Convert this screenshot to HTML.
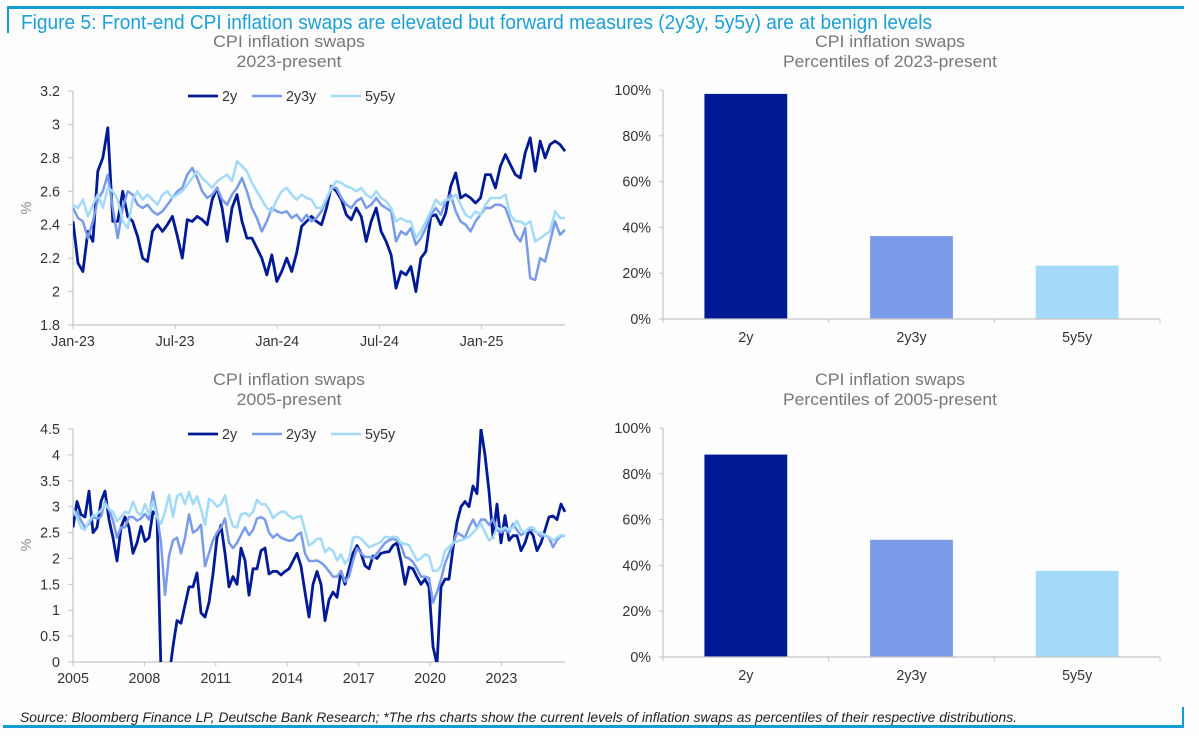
<!DOCTYPE html>
<html lang="en">
<head>
<meta charset="utf-8">
<title>Figure 5: CPI inflation swaps</title>
<style>
  html, body { margin: 0; padding: 0; background: #fff; }
  svg { display: block; font-family: "Liberation Sans", sans-serif; }
</style>
</head>
<body>
<svg id="figure" xmlns="http://www.w3.org/2000/svg" width="1199" height="736" viewBox="0 0 1199 736">
  <rect x="0" y="0" width="1199" height="736" fill="#fefefe"/>
  <rect x="7" y="6" width="1177" height="3" fill="#129cd2"/>
  <rect x="7" y="6" width="2" height="27" fill="#129cd2"/>
  <rect x="3" y="725" width="1181" height="3" fill="#129cd2"/>
  <rect x="1182" y="707" width="2" height="20" fill="#129cd2"/>
  <text x="21" y="29" font-size="20" fill="#1b9fd4" textLength="911" lengthAdjust="spacingAndGlyphs">Figure 5: Front-end CPI inflation swaps are elevated but forward measures (2y3y, 5y5y) are at benign levels</text>

  <text x="289" y="47" font-size="17" fill="#777" text-anchor="middle" textLength="152" lengthAdjust="spacingAndGlyphs">CPI inflation swaps</text>
  <text x="289" y="67" font-size="17" fill="#777" text-anchor="middle" textLength="105" lengthAdjust="spacingAndGlyphs">2023-present</text>
  <text x="890" y="47" font-size="17" fill="#777" text-anchor="middle" textLength="150" lengthAdjust="spacingAndGlyphs">CPI inflation swaps</text>
  <text x="890" y="67" font-size="17" fill="#777" text-anchor="middle" textLength="214" lengthAdjust="spacingAndGlyphs">Percentiles of 2023-present</text>
  <text x="289" y="385" font-size="17" fill="#777" text-anchor="middle" textLength="152" lengthAdjust="spacingAndGlyphs">CPI inflation swaps</text>
  <text x="289" y="405" font-size="17" fill="#777" text-anchor="middle" textLength="105" lengthAdjust="spacingAndGlyphs">2005-present</text>
  <text x="890" y="385" font-size="17" fill="#777" text-anchor="middle" textLength="150" lengthAdjust="spacingAndGlyphs">CPI inflation swaps</text>
  <text x="890" y="405" font-size="17" fill="#777" text-anchor="middle" textLength="214" lengthAdjust="spacingAndGlyphs">Percentiles of 2005-present</text>

  <text x="20" y="722" font-size="14" font-style="italic" fill="#222" textLength="997" lengthAdjust="spacingAndGlyphs">Source: Bloomberg Finance LP, Deutsche Bank Research; *The rhs charts show the current levels of inflation swaps as percentiles of their respective distributions.</text>

  <defs>
    <clipPath id="clip-top"><rect x="73" y="91" width="494" height="234"/></clipPath>
    <clipPath id="clip-bottom"><rect x="73" y="429" width="494" height="233"/></clipPath>
  </defs>
</svg>

<script>
// ---- Line chart data: 2023-present ----
const recentSeries2y = [
  2.42,2.17,2.12,2.36,2.3,2.72,2.8,2.98,2.42,2.42,
  2.6,2.45,2.42,2.33,2.2,2.18,2.36,2.4,2.36,2.4,
  2.45,2.33,2.2,2.43,2.42,2.45,2.43,2.4,2.55,2.62,
  2.5,2.3,2.5,2.58,2.42,2.32,2.32,2.26,2.2,2.1,
  2.22,2.06,2.12,2.2,2.12,2.23,2.39,2.42,2.45,2.42,
  2.4,2.5,2.63,2.6,2.55,2.46,2.43,2.5,2.45,2.3,
  2.42,2.5,2.36,2.3,2.22,2.02,2.12,2.1,2.15,2.0,
  2.2,2.24,2.45,2.46,2.4,2.47,2.63,2.71,2.56,2.58,
  2.56,2.53,2.56,2.7,2.7,2.62,2.75,2.82,2.76,2.7,
  2.68,2.83,2.92,2.72,2.9,2.8,2.88,2.9,2.88,2.84
];
const recentSeries2y3y = [
  2.5,2.44,2.42,2.32,2.42,2.55,2.6,2.7,2.5,2.32,
  2.5,2.6,2.58,2.52,2.5,2.52,2.48,2.46,2.48,2.52,
  2.56,2.6,2.62,2.7,2.74,2.68,2.6,2.56,2.58,2.62,
  2.55,2.52,2.58,2.62,2.68,2.6,2.5,2.44,2.36,2.42,
  2.5,2.48,2.47,2.48,2.44,2.46,2.42,2.46,2.42,2.44,
  2.48,2.55,2.62,2.62,2.56,2.52,2.5,2.54,2.56,2.5,
  2.52,2.56,2.52,2.5,2.48,2.3,2.36,2.34,2.38,2.28,
  2.32,2.38,2.46,2.5,2.46,2.54,2.58,2.48,2.42,2.4,
  2.36,2.42,2.46,2.5,2.5,2.52,2.52,2.5,2.42,2.34,
  2.3,2.38,2.08,2.07,2.2,2.18,2.3,2.42,2.34,2.37
];
const recentSeries5y5y = [
  2.52,2.5,2.55,2.45,2.52,2.58,2.5,2.62,2.6,2.55,
  2.42,2.38,2.55,2.6,2.55,2.58,2.55,2.52,2.58,2.6,
  2.56,2.58,2.6,2.64,2.68,2.72,2.68,2.65,2.62,2.66,
  2.68,2.7,2.66,2.78,2.75,2.72,2.65,2.6,2.55,2.5,
  2.48,2.55,2.6,2.62,2.58,2.55,2.58,2.56,2.55,2.5,
  2.5,2.56,2.62,2.66,2.65,2.63,2.62,2.6,2.62,2.58,
  2.56,2.6,2.56,2.54,2.5,2.42,2.44,2.42,2.42,2.32,
  2.36,2.42,2.48,2.55,2.52,2.55,2.55,2.58,2.52,2.46,
  2.44,2.48,2.46,2.52,2.56,2.56,2.56,2.58,2.46,2.42,
  2.42,2.4,2.42,2.3,2.32,2.34,2.36,2.48,2.44,2.44
];
const recentYTicks = [1.8, 2, 2.2, 2.4, 2.6, 2.8, 3, 3.2];
const recentXTickLabels = ['Jan-23', 'Jul-23', 'Jan-24', 'Jul-24', 'Jan-25'];
const recentXTickMonths = [0, 6, 12, 18, 24];
const recentSpanMonths = [28.9];

// ---- Line chart data: 2005-present ----
const longSeries2y = [
  2.6,3.1,2.85,2.8,3.3,2.5,2.6,3.1,3.3,2.75,
  2.4,1.95,2.6,2.8,2.6,2.1,2.3,2.62,2.33,2.4,
  2.9,2.85,-0.2,-1,-0.3,0.3,0.8,0.75,1.1,1.45,
  1.45,1.72,0.95,0.87,1.15,1.7,2.4,2.64,2.1,1.45,
  1.65,1.5,2.2,1.96,1.29,1.8,1.8,2.15,2.2,1.7,
  1.75,1.75,1.68,1.75,1.8,1.95,2.1,1.85,1.35,0.87,
  1.5,1.75,1.5,0.8,1.2,1.35,1.25,1.75,1.5,1.8,
  2.1,2.25,2.1,1.86,1.8,2.05,2.0,2.1,2.12,2.13,
  2.25,2.3,1.95,1.5,1.83,1.8,1.64,1.5,1.6,1.45,
  0.3,-0.05,1.45,1.6,1.6,2.2,2.7,3.0,3.1,3.0,
  3.4,3.25,4.5,4.0,3.3,2.4,3.05,2.3,2.83,2.35,
  2.44,2.44,2.15,2.3,2.55,2.45,2.15,2.3,2.55,2.8,
  2.82,2.75,3.05,2.9
];
const longSeries2y3y = [
  2.83,2.9,2.73,2.6,2.67,2.8,2.77,2.8,3.1,2.95,
  2.73,2.4,2.6,2.6,2.8,2.8,2.73,2.77,2.86,2.75,
  3.28,2.85,2.3,1.3,2.05,2.35,2.4,2.1,2.4,2.85,
  2.5,2.55,2.65,1.85,2.1,2.35,2.5,2.6,2.77,2.3,
  2.2,2.3,2.45,2.6,2.45,2.55,2.77,2.8,2.75,2.5,
  2.4,2.47,2.4,2.37,2.34,2.35,2.45,2.5,2.1,1.95,
  1.95,1.96,1.92,1.85,1.75,1.65,1.65,1.75,1.55,1.65,
  1.95,2.2,2.1,2.03,2.03,2.0,2.1,2.2,2.3,2.35,
  2.38,2.35,2.25,2.03,2.0,1.93,1.8,1.65,1.65,1.62,
  1.15,1.35,1.6,1.9,2.1,2.28,2.5,2.45,2.4,2.6,
  2.75,2.6,2.75,2.75,2.65,2.77,2.55,2.5,2.55,2.5,
  2.67,2.55,2.45,2.5,2.55,2.55,2.5,2.42,2.45,2.4,
  2.22,2.35,2.44,2.44
];
const longSeries5y5y = [
  2.95,2.8,2.6,2.55,2.72,2.83,2.85,2.93,3.05,2.95,
  2.9,2.72,2.8,2.9,2.87,3.1,2.9,2.83,3.05,2.85,
  3.1,2.8,2.67,2.9,3.23,2.8,3.2,3.25,3.05,3.28,
  3.05,3.2,2.95,2.65,3.15,3.1,3.0,3.05,3.22,2.85,
  2.62,2.6,2.85,2.88,2.82,2.9,3.13,3.05,3.05,2.95,
  2.78,2.85,2.9,2.9,2.82,2.77,2.8,2.82,2.54,2.25,
  2.3,2.38,2.38,2.12,2.2,2.15,1.96,2.08,1.9,2.0,
  2.4,2.42,2.38,2.3,2.22,2.25,2.28,2.32,2.42,2.4,
  2.42,2.41,2.3,2.28,2.26,2.1,1.96,2.0,2.08,2.05,
  1.76,1.76,1.85,2.15,2.22,2.3,2.33,2.35,2.38,2.42,
  2.5,2.58,2.68,2.5,2.35,2.4,2.6,2.55,2.6,2.55,
  2.6,2.73,2.55,2.5,2.6,2.6,2.5,2.5,2.45,2.42,
  2.35,2.4,2.45,2.44
];
const longYTicks = [0, 0.5, 1, 1.5, 2, 2.5, 3, 3.5, 4, 4.5];
const longXTickLabels = ['2005', '2008', '2011', '2014', '2017', '2020', '2023'];
const longXTickYears = [0, 3, 6, 9, 12, 15, 18];
const longSpanYears = [20.67];

// ---- Bar chart data ----
const barCategories = ['2y', '2y3y', '5y5y'];
const percentileValues2023 = [98.3, 36.2, 23.3];
const percentileValues2005 = [88.4, 51.2, 37.6];
const percentTicks = [0, 20, 40, 60, 80, 100];

const seriesNames = ['2y', '2y3y', '5y5y'];
const seriesColors = ['#001a96', '#7a9be8', '#a3dafa'];
const seriesWidths = [2.8, 2.5, 2.5];

const NS = 'http://www.w3.org/2000/svg';
const figure = document.getElementById('figure');
const AXIS = '#c4c4c4';
const INK = '#333';

function addLine(x1, y1, x2, y2, stroke, width, name) {
  const el = document.createElementNS(NS, 'line');
  el.setAttribute('x1', x1);
  el.setAttribute('y1', y1);
  el.setAttribute('x2', x2);
  el.setAttribute('y2', y2);
  el.setAttribute('stroke', stroke);
  el.setAttribute('stroke-width', width);
  
  
  figure.appendChild(el);
  return el;
}

function addText(x, y, label, anchor, name) {
  const el = document.createElementNS(NS, 'text');
  el.setAttribute('x', x);
  el.setAttribute('y', y);
  el.setAttribute('font-size', '14.3');
  el.setAttribute('fill', INK);
  el.setAttribute('text-anchor', anchor);
  
  
  el.textContent = label;
  figure.appendChild(el);
  return el;
}

function drawLineChart(cfg) {
  const xScale = function (t) { return cfg.left + (t / cfg.span) * (cfg.right - cfg.left); };
  const yScale = function (v) { return cfg.bottom - ((v - cfg.yMin) / (cfg.yMax - cfg.yMin)) * (cfg.bottom - cfg.top); };

  addLine(cfg.left, cfg.top, cfg.left, cfg.bottom, AXIS, 1.2, cfg.prefix + '-y-axis');
  addLine(cfg.left, cfg.bottom, cfg.right, cfg.bottom, AXIS, 1.2, cfg.prefix + '-x-axis');

  cfg.yTicks.forEach(function (v) {
    addLine(cfg.left - 5, yScale(v), cfg.left, yScale(v), AXIS, 1, cfg.prefix + '-y-tick');
    addText(cfg.left - 13, yScale(v) + 5, String(v), 'end', cfg.prefix + '-y-tick-label');
  });
  cfg.xTicks.forEach(function (t, i) {
    addLine(xScale(t), cfg.bottom, xScale(t), cfg.bottom + 4, AXIS, 1, cfg.prefix + '-x-tick');
    addText(xScale(t), cfg.bottom + cfg.labelGap, cfg.xLabels[i], 'middle', cfg.prefix + '-x-tick-label');
  });

  const unit = addText(0, 0, '%', 'middle', cfg.prefix + '-y-axis-title');
  unit.setAttribute('fill', '#888');
  unit.setAttribute('transform', 'translate(31 ' + cfg.unitY + ') rotate(-90)');

  cfg.series.forEach(function (values, s) {
    const pts = values.map(function (v, i) {
      return xScale((i / (values.length - 1)) * cfg.span).toFixed(1) + ',' + yScale(v).toFixed(1);
    }).join(' ');
    const el = document.createElementNS(NS, 'polyline');
    el.setAttribute('points', pts);
    el.setAttribute('fill', 'none');
    el.setAttribute('stroke', seriesColors[s]);
    el.setAttribute('stroke-width', seriesWidths[s]);
    el.setAttribute('stroke-linejoin', 'round');
    el.setAttribute('clip-path', 'url(#' + cfg.clip + ')');
    
    
    figure.appendChild(el);
  });

  const legendStarts = [188, 252, 331];
  seriesNames.forEach(function (label, s) {
    addLine(legendStarts[s], cfg.legendY, legendStarts[s] + 30, cfg.legendY, seriesColors[s], seriesWidths[s], cfg.prefix + '-legend-swatch-' + label);
    addText(legendStarts[s] + 34, cfg.legendY + 5, label, 'start', cfg.prefix + '-legend-entry-' + label);
  });
}

function drawBarChart(cfg) {
  const yScale = function (v) { return cfg.bottom - (v / 100) * (cfg.bottom - cfg.top); };
  const band = (cfg.right - cfg.left) / cfg.categories.length;
  const barWidth = band * 0.5;

  addLine(cfg.left, cfg.top, cfg.left, cfg.bottom, AXIS, 1.2, cfg.prefix + '-y-axis');
  cfg.ticks.forEach(function (v) {
    addLine(cfg.left - 4, yScale(v), cfg.left, yScale(v), AXIS, 1, cfg.prefix + '-y-tick');
    addText(cfg.left - 12, yScale(v) + 5, v + '%', 'end', cfg.prefix + '-y-tick-label');
  });

  cfg.categories.forEach(function (label, i) {
    const center = cfg.left + band * (i + 0.5);
    const bar = document.createElementNS(NS, 'rect');
    bar.setAttribute('x', center - barWidth / 2);
    bar.setAttribute('y', yScale(cfg.values[i]));
    bar.setAttribute('width', barWidth);
    bar.setAttribute('height', cfg.bottom - yScale(cfg.values[i]));
    bar.setAttribute('fill', seriesColors[i]);
    
    
    figure.appendChild(bar);
    addText(center, cfg.bottom + 23, label, 'middle', cfg.prefix + '-category-label');
  });

  addLine(cfg.left, cfg.bottom, cfg.right, cfg.bottom, AXIS, 1.2, cfg.prefix + '-x-axis');
  for (let i = 0; i <= cfg.categories.length; i++) {
    addLine(cfg.left + band * i, cfg.bottom, cfg.left + band * i, cfg.bottom + 4, AXIS, 1, cfg.prefix + '-x-tick');
  }
}

drawLineChart({
  prefix: 'recent-chart', left: 73, right: 565, top: 91, bottom: 325,
  yMin: 1.8, yMax: 3.2, span: recentSpanMonths[0],
  yTicks: recentYTicks, xTicks: recentXTickMonths, xLabels: recentXTickLabels,
  series: [recentSeries2y, recentSeries2y3y, recentSeries5y5y],
  clip: 'clip-top', legendY: 96, unitY: 208, labelGap: 21
});

drawLineChart({
  prefix: 'long-chart', left: 73, right: 565, top: 429, bottom: 662,
  yMin: 0, yMax: 4.5, span: longSpanYears[0],
  yTicks: longYTicks, xTicks: longXTickYears, xLabels: longXTickLabels,
  series: [longSeries2y, longSeries2y3y, longSeries5y5y],
  clip: 'clip-bottom', legendY: 434, unitY: 545, labelGap: 21
});

drawBarChart({
  prefix: 'percentile-2023-chart', left: 663, right: 1160, top: 90, bottom: 319,
  categories: barCategories, values: percentileValues2023, ticks: percentTicks
});

drawBarChart({
  prefix: 'percentile-2005-chart', left: 663, right: 1160, top: 428, bottom: 657,
  categories: barCategories, values: percentileValues2005, ticks: percentTicks
});
</script>
</body>
</html>
